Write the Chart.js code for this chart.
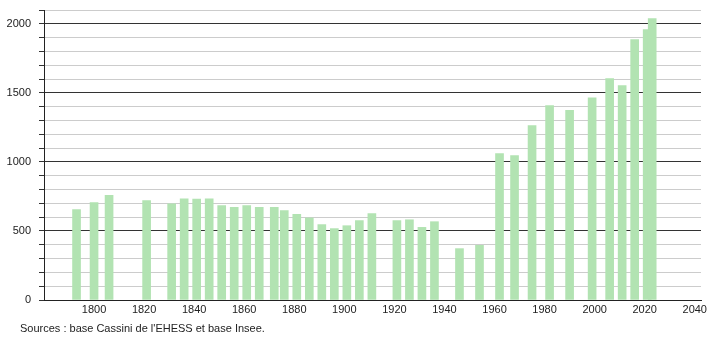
<!DOCTYPE html>
<html>
<head>
<meta charset="utf-8">
<script src="https://cdn.jsdelivr.net/npm/chart.js@4"></script>
<style>
  html, body { margin: 0; padding: 0; background: #fff; }
  #wrap { position: relative; width: 710px; height: 340px; }
  #source {
    position: absolute; left: 20px; top: 322px;
    font: 11px/13px "Liberation Sans", Arial, sans-serif; color: #222;
  }
</style>
</head>
<body>
<div id="wrap">
  <canvas id="popChart" width="710" height="340"></canvas>
  <div id="source">Sources : base Cassini de l'EHESS et base Insee.</div>
</div>
<script>
// census years and population
const years = [1793, 1800, 1806, 1821, 1831, 1836, 1841, 1846, 1851, 1856,
               1861, 1866, 1872, 1876, 1881, 1886, 1891, 1896, 1901, 1906,
               1911, 1921, 1926, 1931, 1936, 1946, 1954, 1962, 1968, 1975,
               1982, 1990, 1999, 2006, 2011, 2016, 2021, 2023];
const population = [655, 705, 758, 720, 697, 732, 731, 732, 683, 671,
                    683, 671, 671, 647, 620, 594, 546, 517, 538, 575,
                    625, 575, 581, 526, 567, 372, 396, 1060, 1046, 1263,
                    1408, 1374, 1464, 1604, 1553, 1886, 1958, 2038];
const xTicksShown = [1800, 1820, 1840, 1860, 1880, 1900, 1920, 1940, 1960, 1980, 2000, 2020, 2040];
const yTicksShown = [0, 500, 1000, 1500, 2000];

const points = years.map((y, i) => ({ x: y, y: population[i] }));
const font = { family: "'Liberation Sans', Arial, sans-serif", size: 11 };

new Chart(document.getElementById("popChart"), {
    type: "bar",
    data: {
        datasets: [{
            data: points,
            backgroundColor: "#b2e3b2",
            borderWidth: 0,
            barThickness: 8
        }]
    },
    options: {
        responsive: false,
        animation: false,
        devicePixelRatio: 1,
        layout: { padding: { left: 0, right: 9, top: 10, bottom: 20 } },
        plugins: {
            legend: { display: false },
            tooltip: { enabled: false }
        },
        scales: {
            x: {
                type: "linear",
                min: 1780,
                max: 2042.5,
                offset: false,
                grid: { display: false, drawTicks: false },
                border: { display: true, color: "#222", width: 1 },
                ticks: {
                    stepSize: 20,
                    includeBounds: false,
                    autoSkip: false,
                    maxRotation: 0,
                    padding: 3,
                    color: "#222",
                    font: font,
                    callback: v => xTicksShown.includes(v) ? String(v) : ""
                },
                afterFit: s => {
                    s.height = 20;
                    s.paddingLeft = 0;
                    s.paddingRight = 0;
                }
            },
            y: {
                min: 0,
                max: 2100,
                grid: {
                    color: c => yTicksShown.includes(c.tick.value) ? "#333" : "#ccc",
                    tickColor: "#333",
                    tickLength: 5,
                    lineWidth: 1
                },
                border: { display: true, color: "#222", width: 1 },
                ticks: {
                    stepSize: 100,
                    autoSkip: false,
                    padding: 8,
                    color: "#222",
                    font: font,
                    callback: v => yTicksShown.includes(v) ? String(v) : ""
                },
                afterFit: s => {
                    s.width = 44;
                    s.paddingTop = 0;
                    s.paddingBottom = 0;
                }
            }
        }
    }
});
</script>
</body>
</html>
